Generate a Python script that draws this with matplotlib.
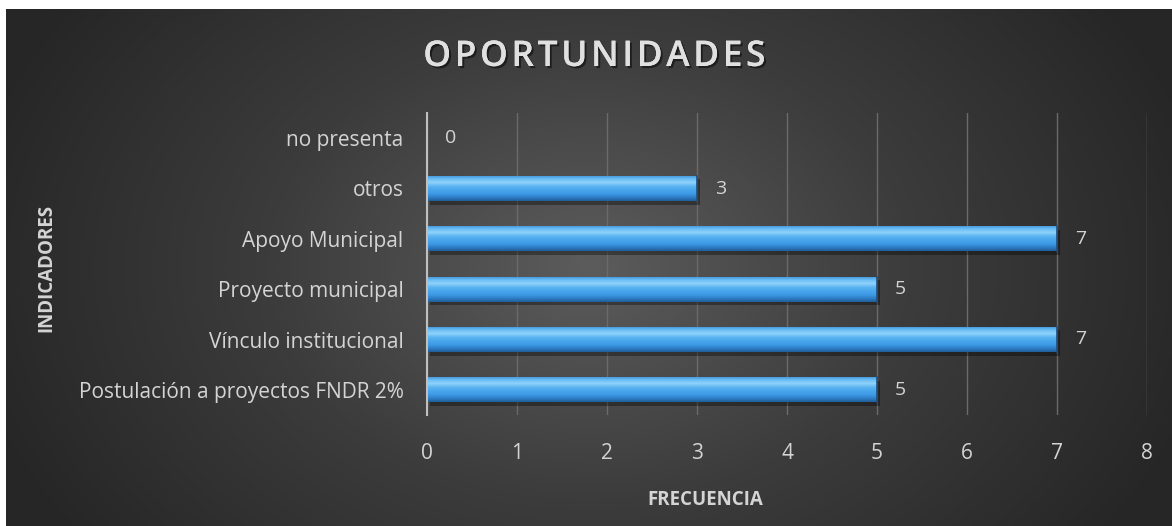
import numpy as np
import matplotlib.pyplot as plt
import matplotlib.patheffects as pe
from matplotlib.colors import LinearSegmentedColormap

categorias = ["Postulación a proyectos FNDR 2%", "Vínculo institucional", "Proyecto municipal",
              "Apoyo Municipal", "otros", "no presenta"]
frecuencia = [5, 7, 5, 7, 3, 0]
ticks_x = list(range(0, 9))

txt = "#d4d4d4"
plt.rcParams["font.family"] = ["Open Sans", "DejaVu Sans"]

fig = plt.figure(figsize=(11.72, 5.26), dpi=100)
fig.patch.set_facecolor("white")

# fondo con degradado radial
bg = fig.add_axes([6 / 1172, 0, 1 - 6 / 1172, 1 - 9 / 526])
bg.set_axis_off()
yy, xx = np.mgrid[0:1:300j, 0:1:600j]
r = np.sqrt(((xx - 0.5) / 0.55) ** 2 + ((yy - 0.5) / 0.9) ** 2)
fondo = LinearSegmentedColormap.from_list("f", ["#5c5c5c", "#3c3c3c", "#262626"])
bg.imshow(r, cmap=fondo, aspect="auto", extent=[0, 1, 0, 1], vmin=0, vmax=1.0)
bg.set_xlim(0, 1)
bg.set_ylim(0, 1)

ax = fig.add_axes([427 / 1172, 111 / 526, 720 / 1172, 302 / 526])
ax.patch.set_alpha(0)
y = np.arange(len(categorias))
alto = 0.5

barras = ax.barh(y, frecuencia, height=alto, color="#3d98e0", zorder=3)
grad = LinearSegmentedColormap.from_list(
    "b", ["#1f5e9a", "#2f7fc8", "#3f9be6", "#4aa6ec", "#5cb5f2", "#8fd3fb", "#6bbdf5", "#3a90d8"])
gy = np.linspace(0, 1, 100).reshape(-1, 1)
for b in barras:
    if b.get_width() <= 0:
        continue
    x0, y0, w, h = b.get_x(), b.get_y(), b.get_width(), b.get_height()
    # sombra
    ax.barh(y0 + h / 2 - 0.07, w, height=h, left=x0 + 0.03, color="black", alpha=0.35, zorder=2)
    im = ax.imshow(gy, cmap=grad, aspect="auto", extent=[x0, x0 + w, y0, y0 + h],
                   origin="lower", zorder=4)
    im.set_clip_path(b)
    ax.plot([x0 + w, x0 + w], [y0, y0 + h], color="#1d4f80", lw=1.2, zorder=5)

for yi, v in zip(y, frecuencia):
    ax.text(v + 0.2, yi, str(v), color=txt, va="center", ha="left", fontsize=14, zorder=6)

ax.set_xlim(0, 8)
ax.set_ylim(-0.5, len(categorias) - 0.5)
ax.set_xticks(ticks_x)
ax.set_yticks(y)
ax.set_yticklabels(categorias)
ax.tick_params(axis="both", length=0, colors=txt, labelsize=15)
ax.tick_params(axis="x", pad=20)
ax.tick_params(axis="y", pad=17)
ax.grid(axis="x", color="#6a6a6a", lw=1, zorder=1)
for s in ["top", "right", "bottom"]:
    ax.spines[s].set_visible(False)
ax.spines["left"].set_color("#bfbfbf")
ax.spines["left"].set_linewidth(1.5)
ax.spines["left"].set_zorder(6)

sombra = [pe.withSimplePatchShadow(offset=(1.5, -1.5), shadow_rgbFace="black", alpha=0.5), pe.Normal()]
fig.text(594 / 1172, 1 - 57 / 526, "\u200a".join("OPORTUNIDADES"),
         color="#e0e0e0", fontsize=25.5, fontweight="semibold", ha="center", va="center",
         path_effects=sombra)
fig.text(705 / 1172, 1 - 500 / 526, "FRECUENCIA", color=txt, fontsize=13.5,
         fontweight="bold", ha="center", va="center")
fig.text(46 / 1172, 1 - 268 / 526, "INDICADORES", color=txt, fontsize=13.5,
         fontweight="bold", ha="center", va="center", rotation=90)

fig.savefig("out.png", dpi=100, facecolor=fig.get_facecolor())
